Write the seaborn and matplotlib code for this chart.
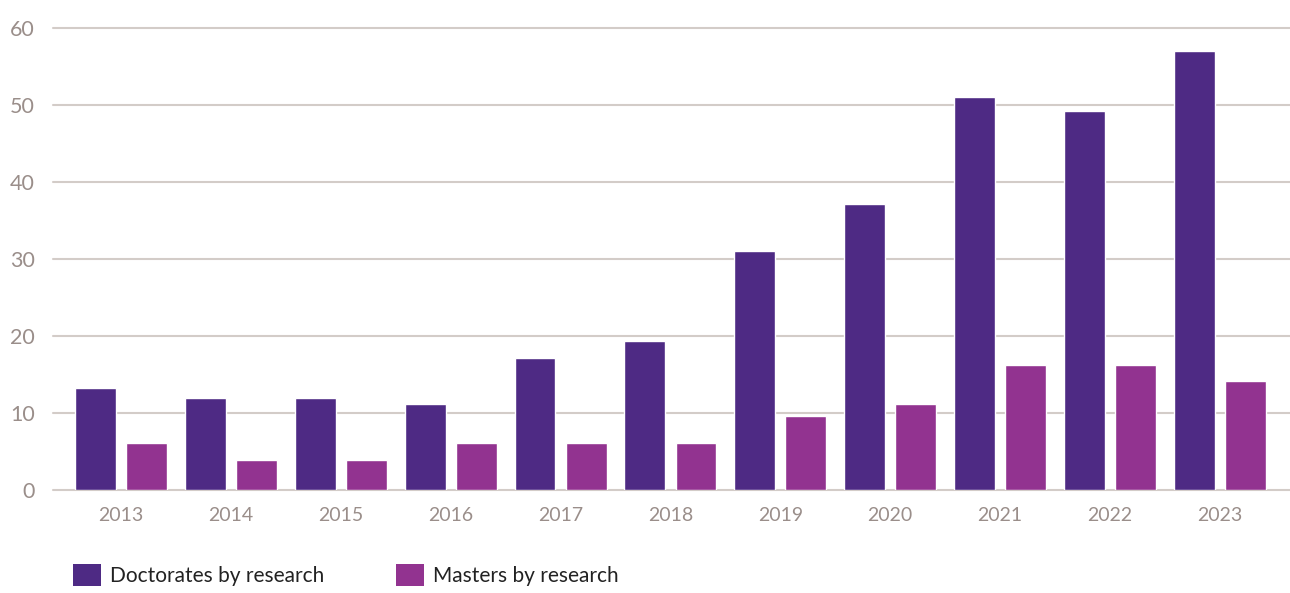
import matplotlib
matplotlib.use("Agg")
import matplotlib.pyplot as plt
import pandas as pd
import seaborn as sns
from matplotlib.patches import Patch

years = ["2013", "2014", "2015", "2016", "2017", "2018", "2019", "2020", "2021", "2022", "2023"]
doctorates = [13.2, 12, 12, 11.2, 17.2, 19.3, 31.1, 37.1, 51, 49.2, 57]
masters = [6.1, 3.9, 3.9, 6.1, 6.1, 6.1, 9.6, 11.2, 16.2, 16.2, 14.1]
series = ["Doctorates by research", "Masters by research"]
colors = ["#4E2A84", "#923390"]

df = pd.DataFrame({
    "year": years * 2,
    "value": doctorates + masters,
    "series": [series[0]] * len(years) + [series[1]] * len(years),
})

sns.set_style("white")
plt.rcParams["font.family"] = ["Lato", "DejaVu Sans"]

fig = plt.figure(figsize=(12.9, 5.93), dpi=100)
ax = fig.add_axes([53 / 1290, 1 - 490 / 593, 1 - 53 / 1290, (490 - 28) / 593])

sns.barplot(df, x="year", y="value", hue="series", hue_order=series,
            palette=colors, width=0.93, gap=0.2, saturation=1,
            legend=False, ax=ax, zorder=3)

ax.set_ylim(0, 60)
ax.set_xlim(-0.62, 10.64)
ax.set_yticks(range(0, 61, 10))
ax.grid(visible=True, which="major", axis="y", color="#D3CCC8", linewidth=1.5, zorder=0)
ax.set_axisbelow(True)
for gl in ax.get_ygridlines():
    gl.set_clip_on(False)
sns.despine(ax=ax, left=True, bottom=True)
ax.set_xlabel("")
ax.set_ylabel("")
ax.tick_params(axis="y", length=0, pad=13, labelsize=15.5, labelcolor="#9A8E8A")
ax.tick_params(axis="x", length=0, pad=12, labelsize=14, labelcolor="#9A8E8A")

handles = [Patch(facecolor=c, edgecolor="none", label=s) for c, s in zip(colors, series)]
fig.legend(handles=handles, loc="center left", bbox_to_anchor=(73 / 1290, 0.030),
           ncols=2, frameon=False, fontsize=15, handlelength=1.35, handleheight=1.25,
           handletextpad=0.45, columnspacing=3.4, borderpad=0, borderaxespad=0,
           labelcolor="#222222")

fig.savefig("out.png", dpi=100)
